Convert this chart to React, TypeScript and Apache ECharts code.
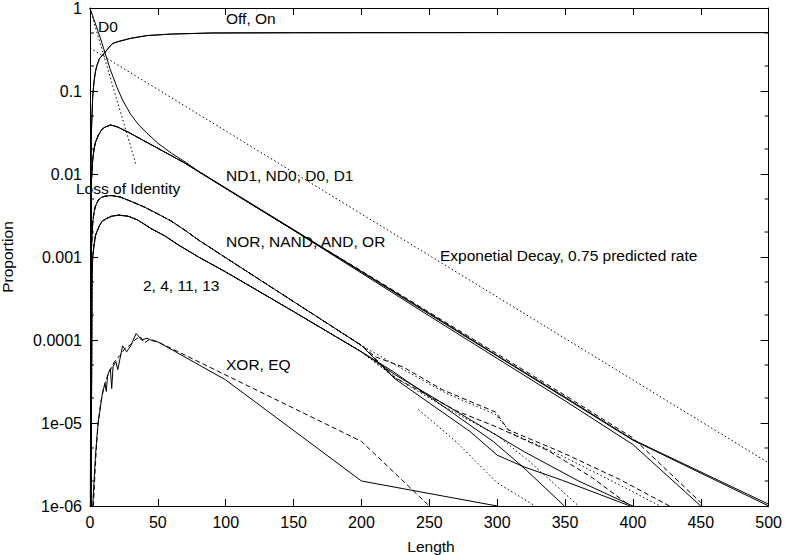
import React, { useEffect, useRef } from 'react'
import * as echarts from 'echarts'

// tick labels for the log axis, indexed by exponent + 6
const yTickLabels = ['1e-06', '1e-05', '0.0001', '0.001', '0.01', '0.1', '1']
const minorTicks = [2e-6, 5e-6, 2e-5, 5e-5, 2e-4, 5e-4, 0.002, 0.005, 0.02, 0.05, 0.2, 0.5]

const offData = [
    [0.3, 1e-6], [0.6, 0.004], [1, 0.03], [2, 0.085], [3, 0.13], [4, 0.17], [5, 0.2], [7, 0.245],
    [11, 0.29], [15, 0.35], [17, 0.375], [20, 0.39], [30, 0.43], [42, 0.465], [60, 0.485],
    [90, 0.5], [150, 0.503], [300, 0.505], [500, 0.505],
]
const onData = [
    [0.3, 1e-6], [0.6, 0.005], [1, 0.032], [2, 0.088], [3, 0.132], [4, 0.172], [5, 0.202], [7, 0.247],
    [11, 0.292], [15, 0.352], [17, 0.376], [20, 0.392], [30, 0.432], [42, 0.466], [60, 0.486],
    [90, 0.5], [150, 0.504], [300, 0.506], [500, 0.506],
]
const lossData = [[0, 0.98], [34, 0.0128]]
const expData = [[0, 0.33], [500, 3.3e-6]]

const d0Data = [
    [0, 1], [3, 0.72], [6, 0.52], [9, 0.37], [11, 0.29], [15, 0.18], [20, 0.11], [24, 0.078],
    [30, 0.052], [36, 0.039], [42, 0.031], [50, 0.0235], [60, 0.0178], [70, 0.014], [80, 0.0108],
    [100, 0.0068], [150, 0.00214], [200, 6.7e-4], [250, 2.1e-4], [300, 6.5e-5], [350, 2.05e-5],
    [400, 6.3e-6], [500, 1.05e-6],
]
const ndRise = [
    [0.4, 1e-6], [1, 0.008], [2, 0.015], [3, 0.02], [4, 0.024], [6, 0.029], [8, 0.033], [10, 0.036],
    [15, 0.039], [20, 0.037], [28, 0.032], [40, 0.025], [50, 0.0204], [60, 0.0166], [70, 0.0135],
    [100, 0.0067], [150, 0.0021],
]
const nd1Data = [...ndRise, [200, 6.6e-4], [250, 2.05e-4], [300, 6.4e-5], [350, 2.0e-5], [400, 6.2e-6], [500, 1e-6]]
const nd0Data = [...ndRise, [200, 6.4e-4], [250, 1.95e-4], [300, 6.0e-5], [350, 1.85e-5], [400, 5.5e-6], [450, 1e-6]]
const d1Data = [...ndRise, [200, 6.8e-4], [250, 2.15e-4], [300, 6.8e-5], [350, 2.15e-5], [400, 6.6e-6], [450, 1.1e-6]]

const norRise = [
    [0.6, 1e-6], [1, 0.0012], [2, 0.0026], [3, 0.0035], [4, 0.0041], [6, 0.0048], [8, 0.0052],
    [11, 0.0054], [16, 0.0055], [22, 0.0053], [30, 0.0047], [40, 0.004], [50, 0.0033], [60, 0.0027],
    [70, 0.0021], [80, 0.0016], [100, 9.8e-4], [150, 2.9e-4], [200, 8.6e-5],
]
const norData = [...norRise, [224, 3.47e-5], [250, 1.74e-5], [280, 7.9e-6], [300, 4.1e-6], [320, 2.95e-6], [348, 2.04e-6], [398, 1e-6]]
const nandData = [...norRise, [210, 6.3e-5], [231, 4.7e-5], [260, 2.5e-5], [299, 1.35e-5], [308, 8.3e-6], [348, 4.4e-6], [390, 2.1e-6], [427, 1e-6]]
const andData = [...norRise, [231, 4.4e-5], [262, 2.3e-5], [299, 1.26e-5], [310, 7.6e-6], [348, 4e-6], [390, 1.8e-6], [420, 1e-6]]
const orData = [...norRise, [225, 3.5e-5], [270, 1.4e-5], [300, 8.9e-6], [337, 4.7e-6], [370, 2.2e-6], [398, 1e-6]]

const twoRise = [
    [0.8, 1e-6], [1.5, 6e-4], [2, 0.001], [3, 0.0014], [4, 0.0018], [5, 0.002], [7, 0.0024], [9, 0.0027],
    [12, 0.0029], [16, 0.0031], [21, 0.0032], [28, 0.0031], [35, 0.0028], [45, 0.0022], [55, 0.0018],
    [65, 0.0014], [80, 0.001], [100, 6.6e-4], [150, 2.2e-4], [200, 7.2e-5],
]
const f2Data = [...twoRise, [223, 4.2e-5], [260, 1.6e-5], [297, 6e-6], [319, 2.95e-6], [349.5, 1e-6]]
const f4Data = [...twoRise, [225, 3.5e-5], [260, 1.6e-5], [300, 7.1e-6], [325, 3.3e-6], [360, 1e-6]]
const f11Data = [...twoRise, [228, 3.2e-5], [235, null], [242, 1.45e-5], [270, 5.9e-6], [300, 1.9e-6], [328, 1e-6]]
const f13Data = [...twoRise, [225, 3.8e-5], [280, 1.1e-5], [320, 4.5e-6], [360, 2e-6], [400, 1e-6]]

const xorData = [
    [2, 1e-6], [3, 2e-6], [4, 4e-6], [5, 6.5e-6], [6, 1e-5], [7, 1.3e-5], [9, 2.2e-5], [11, 3e-5],
    [12, 2.4e-5], [13, 3.8e-5], [15, 4.5e-5], [16, 2.6e-5], [17, 4.8e-5], [19, 5.5e-5], [20.5, 4.4e-5],
    [24, 8.5e-5], [27, 7.2e-5], [30, 8.5e-5], [34, 1.2e-4], [38, 1.0e-4], [42, 1.05e-4], [46, 9.8e-5],
    [50, 9.5e-5], [100, 3.3e-5], [200, 2e-6], [300, 1e-6],
]
const eqData = [
    [2.5, 1e-6], [3.5, 2.2e-6], [4.5, 4.5e-6], [6, 1e-5], [8, 1.8e-5], [10, 2.6e-5], [12, 3.4e-5],
    [14, 4e-5], [18, 5.5e-5], [22, 6.5e-5], [26, 8e-5], [30, 8.8e-5], [33, 1e-4], [37, 1.1e-4],
    [40, 9.2e-5], [44, 1.02e-4], [50, 9.5e-5], [200, 6e-6], [250, 1e-6],
]

const SOLID = 'solid'
const DASHED = [5, 3]
const DOTTED = [1.5, 2.5]

const lines: { name: string; data: any[]; dash: any }[] = [
    { name: 'Off', data: offData, dash: SOLID },
    { name: 'On', data: onData, dash: SOLID },
    { name: 'Loss of Identity', data: lossData, dash: DOTTED },
    { name: 'Exponential', data: expData, dash: DOTTED },
    { name: 'D0', data: d0Data, dash: SOLID },
    { name: 'ND1', data: nd1Data, dash: SOLID },
    { name: 'ND0', data: nd0Data, dash: SOLID },
    { name: 'D1', data: d1Data, dash: DASHED },
    { name: 'NOR', data: norData, dash: SOLID },
    { name: 'NAND', data: nandData, dash: DASHED },
    { name: 'AND', data: andData, dash: DOTTED },
    { name: 'OR', data: orData, dash: DASHED },
    { name: '2', data: f2Data, dash: SOLID },
    { name: '4', data: f4Data, dash: DOTTED },
    { name: '11', data: f11Data, dash: DOTTED },
    { name: '13', data: f13Data, dash: SOLID },
    { name: 'XOR', data: xorData, dash: SOLID },
    { name: 'EQ', data: eqData, dash: DASHED },
]

const FONT = '"Liberation Sans", Arial, sans-serif'

const label = (text: string, x: number, y: number) => ({
    type: 'text',
    x,
    y,
    silent: true,
    style: { text, fill: '#000', font: `15.5px ${FONT}`, verticalAlign: 'middle', textVerticalAlign: 'middle' },
})

const App: React.FC = () => {
    const chartRef = useRef<HTMLDivElement>(null)

    useEffect(() => {
        const chart = echarts.init(chartRef.current, null, { renderer: 'svg' })

        const axisCommon = {
            type: 'value',
            min: 0,
            max: 500,
            interval: 50,
            axisLine: { show: true, onZero: false, lineStyle: { color: '#000', width: 1 } },
            axisTick: { show: true, inside: true, length: 7, lineStyle: { color: '#000' } },
            splitLine: { show: false },
        }
        const yCommon = {
            type: 'log',
            logBase: 10,
            min: 1e-6,
            max: 1,
            splitNumber: 6,
            axisLine: { show: true, onZero: false, lineStyle: { color: '#000', width: 1 } },
            axisTick: { show: true, inside: true, length: 8, lineStyle: { color: '#000' } },
            splitLine: { show: false },
        }

        const option = {
            animation: false,
            backgroundColor: '#fff',
            grid: { left: 90, right: 13, top: 8, bottom: 49, containLabel: false },
            xAxis: [
                {
                    ...axisCommon,
                    position: 'bottom',
                    axisLabel: { interval: 0, margin: 8, color: '#000', fontSize: 16, fontFamily: FONT },
                },
                { ...axisCommon, position: 'top', axisLabel: { show: false } },
            ],
            yAxis: [
                {
                    ...yCommon,
                    position: 'left',
                    axisLabel: {
                        margin: 8,
                        color: '#000',
                        fontSize: 16,
                        fontFamily: FONT,
                        formatter: (v: number) => yTickLabels[Math.round(Math.log10(v)) + 6],
                    },
                },
                { ...yCommon, position: 'right', axisLabel: { show: false } },
            ],
            series: [
                ...lines.map((l) => ({
                    name: l.name,
                    type: 'line',
                    data: l.data,
                    showSymbol: false,
                    symbol: 'none',
                    connectNulls: false,
                    silent: true,
                    lineStyle: { color: '#000', width: 1, type: l.dash },
                })),
                {
                    name: 'minor ticks',
                    type: 'custom',
                    silent: true,
                    clip: false,
                    data: minorTicks.map((v) => [0, v]),
                    renderItem: (_params: any, api: any) => {
                        const v = api.value(1)
                        const l = api.coord([0, v])
                        const r = api.coord([500, v])
                        const s = { stroke: '#000', lineWidth: 1 }
                        return {
                            type: 'group',
                            children: [
                                { type: 'line', shape: { x1: l[0], y1: l[1], x2: l[0] + 4, y2: l[1] }, style: s },
                                { type: 'line', shape: { x1: r[0] - 4, y1: r[1], x2: r[0], y2: r[1] }, style: s },
                            ],
                        }
                    },
                },
            ],
            graphic: [
                label('D0', 98, 26),
                label('Off, On', 226, 18),
                label('ND1, ND0, D0, D1', 226, 175),
                label('Loss of Identity', 76, 188),
                label('NOR, NAND, AND, OR', 226, 241),
                label('Exponetial Decay, 0.75 predicted rate', 440, 255),
                label('2, 4, 11, 13', 143, 285),
                label('XOR, EQ', 226, 364),
                {
                    type: 'text',
                    x: 431,
                    y: 546,
                    silent: true,
                    style: { text: 'Length', fill: '#000', font: `15.5px ${FONT}`, align: 'center', verticalAlign: 'middle', textAlign: 'center', textVerticalAlign: 'middle' },
                },
                {
                    type: 'text',
                    x: 7,
                    y: 257,
                    rotation: Math.PI / 2,
                    silent: true,
                    style: { text: 'Proportion', fill: '#000', font: `15.5px ${FONT}`, align: 'center', verticalAlign: 'middle', textAlign: 'center', textVerticalAlign: 'middle' },
                },
            ],
        }

        chart.setOption(option as any)

        return () => {
            chart.dispose()
        }
    }, [])

    return (
        <div
            ref={chartRef}
            style={{ position: 'fixed', left: 0, top: 0, width: '785px', height: '555px', background: '#fff' }}
        />
    )
}

export default App
